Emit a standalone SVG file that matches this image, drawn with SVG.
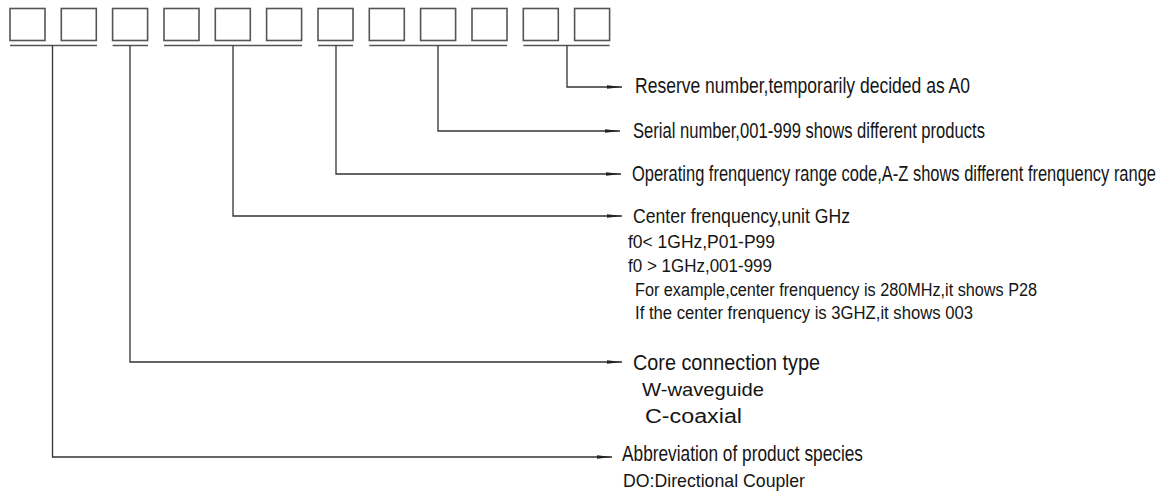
<svg xmlns="http://www.w3.org/2000/svg" width="1166" height="492" viewBox="0 0 1166 492">
<style>
.box{fill:#fff;stroke:#555;stroke-width:1.6}
.ul{stroke:#555;stroke-width:1.6;fill:none}
.con{stroke:#333;stroke-width:1.3;fill:none;marker-end:url(#ah)}
text{font-family:"Liberation Sans",Arial,sans-serif;fill:#151515}
.m{font-size:22px}
.s{font-size:18px}
</style>
<defs>
<marker id="ah" markerUnits="userSpaceOnUse" markerWidth="15" markerHeight="6" refX="15" refY="3" orient="auto">
<path d="M0,1.2 L15,3 L0,4.8 Z" fill="#222"/>
</marker>
</defs>
<g id="boxes">
<rect class="box" x="10" y="8.5" width="35" height="32"/>
<rect class="box" x="61.3" y="8.5" width="35" height="32"/>
<rect class="box" x="112.6" y="8.5" width="35" height="32"/>
<rect class="box" x="164" y="8.5" width="35" height="32"/>
<rect class="box" x="215.3" y="8.5" width="35" height="32"/>
<rect class="box" x="266.6" y="8.5" width="35" height="32"/>
<rect class="box" x="318" y="8.5" width="35" height="32"/>
<rect class="box" x="369.3" y="8.5" width="35" height="32"/>
<rect class="box" x="420.6" y="8.5" width="35" height="32"/>
<rect class="box" x="472" y="8.5" width="35" height="32"/>
<rect class="box" x="523.3" y="8.5" width="35" height="32"/>
<rect class="box" x="574.6" y="8.5" width="35" height="32"/>
</g>
<g id="underlines">
<line class="ul" x1="10" y1="45.5" x2="97" y2="45.5"/>
<line class="ul" x1="112.6" y1="45.5" x2="148" y2="45.5"/>
<line class="ul" x1="164" y1="45.5" x2="302" y2="45.5"/>
<line class="ul" x1="318" y1="45.5" x2="353" y2="45.5"/>
<line class="ul" x1="369.3" y1="45.5" x2="507" y2="45.5"/>
<line class="ul" x1="523.3" y1="45.5" x2="609.6" y2="45.5"/>
</g>
<g id="connectors">
<polyline class="con" points="567,45.5 567,87 622,87"/>
<polyline class="con" points="438,45.5 438,131 620,131"/>
<polyline class="con" points="336,45.5 336,174 621,174"/>
<polyline class="con" points="233,45.5 233,216 622,216"/>
<polyline class="con" points="130,45.5 130,362 622,362"/>
<polyline class="con" points="52.5,45.5 52.5,457 612,457"/>
</g>
<g id="reserve">
<text class="m" x="635" y="93" textLength="335" lengthAdjust="spacingAndGlyphs">Reserve number,temporarily decided as A0</text>
</g>
<g id="serial">
<text class="m" x="633" y="138" textLength="352" lengthAdjust="spacingAndGlyphs">Serial number,001-999 shows different products</text>
</g>
<g id="operating">
<text class="m" x="632" y="181" textLength="524" lengthAdjust="spacingAndGlyphs">Operating frenquency range code,A-Z shows different frenquency range</text>
</g>
<g id="center">
<text x="633" y="223" style="font-size:20px" textLength="217" lengthAdjust="spacingAndGlyphs">Center frenquency,unit GHz</text>
<text class="s" x="628" y="248" textLength="147" lengthAdjust="spacingAndGlyphs">f0&lt; 1GHz,P01-P99</text>
<text class="s" x="628" y="272" textLength="144" lengthAdjust="spacingAndGlyphs">f0 &gt;  1GHz,001-999</text>
<text class="s" x="635" y="296" textLength="402" lengthAdjust="spacingAndGlyphs">For example,center frenquency is 280MHz,it shows P28</text>
<text class="s" x="635" y="319" textLength="338" lengthAdjust="spacingAndGlyphs">If the center frenquency is 3GHZ,it shows 003</text>
</g>
<g id="core">
<text x="633" y="370" style="font-size:22px" textLength="187" lengthAdjust="spacingAndGlyphs">Core connection type</text>
<text x="642" y="396" style="font-size:19px" textLength="122" lengthAdjust="spacingAndGlyphs">W-waveguide</text>
<text x="645" y="423" style="font-size:20px" textLength="97" lengthAdjust="spacingAndGlyphs">C-coaxial</text>
</g>
<g id="abbreviation">
<text x="622" y="461" style="font-size:22px" textLength="241" lengthAdjust="spacingAndGlyphs">Abbreviation of product species</text>
<text x="623" y="487" style="font-size:19px" textLength="182" lengthAdjust="spacingAndGlyphs">DO:Directional Coupler</text>
</g>
</svg>
